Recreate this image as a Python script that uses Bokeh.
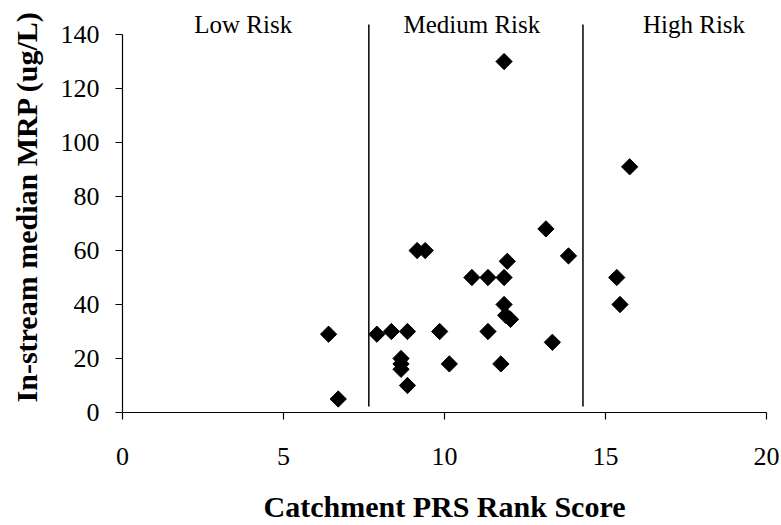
import numpy as np
from bokeh.plotting import figure
from bokeh.models import ColumnDataSource, LabelSet, Range1d, FixedTicker
from bokeh.embed import file_html
from bokeh.resources import INLINE

# ---- data ----
prs_score = [6.4, 6.7, 7.9, 8.35, 8.85, 9.85, 9.15, 9.4, 8.65, 8.65, 8.65, 8.85,
             10.15, 10.85, 11.35, 11.85, 11.95, 11.35, 11.75, 11.85, 11.9, 12.05,
             13.15, 13.85, 13.35, 11.85, 15.75, 15.35, 15.45]
median_mrp = [29, 5, 29, 30, 30, 30, 60, 60, 20, 18, 16, 10,
              18, 50, 50, 50, 56, 30, 18, 40, 36, 34.5,
              68, 58, 26, 130, 91, 50, 40]
risk_boundaries = [7.65, 14.3]
risk_classes = ["Low Risk", "Medium Risk", "High Risk"]
x_ticks = [0, 5, 10, 15, 20]
y_ticks = [0, 20, 40, 60, 80, 100, 120, 140]

FONT = "Liberation Serif"

p = figure(width=781, height=525,
           x_range=Range1d(0, 20), y_range=Range1d(0, 152.6),
           output_backend="svg", toolbar_location=None,
           min_border_left=122, min_border_right=15,
           min_border_top=0, min_border_bottom=113,
           x_axis_label="Catchment PRS Rank Score",
           y_axis_label="In-stream median MRP (ug/L)")

p.xgrid.grid_line_color = None
p.ygrid.grid_line_color = None
p.outline_line_color = None
p.background_fill_color = "white"
p.border_fill_color = "white"

p.xaxis.ticker = FixedTicker(ticks=x_ticks)
p.yaxis.ticker = FixedTicker(ticks=y_ticks)
p.yaxis.bounds = (0, 140)

for ax in (p.xaxis, p.yaxis):
    ax.minor_tick_line_color = None
    ax.major_tick_out = 7
    ax.major_tick_in = 0
    ax.axis_line_color = "black"
    ax.axis_line_width = 1.2
    ax.major_tick_line_color = "black"
    ax.major_tick_line_width = 1.2
    ax.major_label_text_font = FONT
    ax.major_label_text_font_size = "26px"
    ax.major_label_text_color = "black"
    ax.axis_label_text_font = FONT
    ax.axis_label_text_font_style = "bold"
    ax.axis_label_text_font_size = "30px"
    ax.axis_label_text_color = "black"

p.xaxis.major_label_standoff = 28
p.xaxis.axis_label_standoff = 22
p.yaxis.major_label_standoff = 16
p.yaxis.axis_label_standoff = 15

# risk class boundaries
p.segment(x0=risk_boundaries, y0=[2.2] * len(risk_boundaries),
          x1=risk_boundaries, y1=[143.7] * len(risk_boundaries),
          line_color="black", line_width=1.5)

# data points (black diamonds)
src = ColumnDataSource(dict(x=prs_score, y=median_mrp))
p.scatter("x", "y", source=src, marker="square", angle=np.pi / 4, size=11.5,
          fill_color="black", line_color="black", line_width=1)

# risk class labels
lab_src = ColumnDataSource(dict(x=[3.75, 10.85, 17.75], y=[140.7] * 3, t=risk_classes))
p.add_layout(LabelSet(x="x", y="y", text="t", source=lab_src,
                      text_font=FONT, text_font_size="25px", text_color="black",
                      text_align="center", text_baseline="alphabetic"))

open("out.html", "w").write(file_html(p, INLINE))
